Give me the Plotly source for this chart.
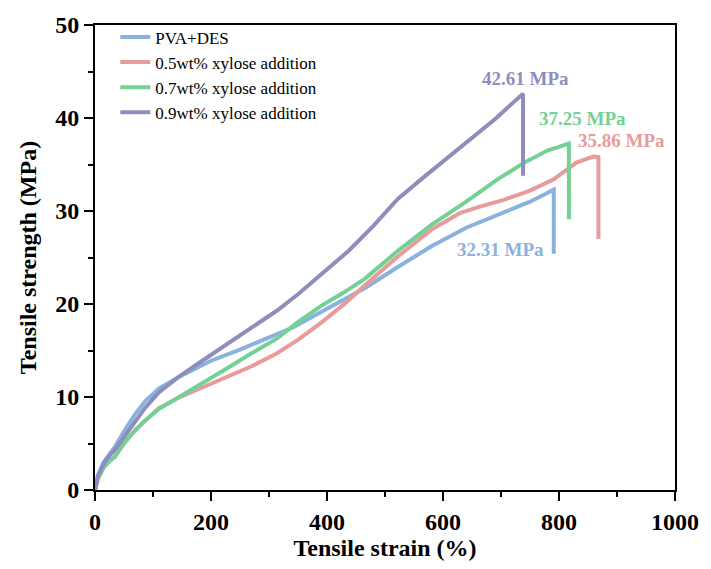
import plotly.graph_objects as go

# ---- data ----
blue_strain = [0, 5, 15, 25, 34, 50, 70, 86, 110, 143, 200, 250, 285, 342, 400, 465, 520, 580, 640, 705, 750, 779, 791, 791]
blue_stress = [0, 1.6, 3.0, 3.9, 4.6, 6.3, 8.2, 9.5, 10.9, 12.1, 13.9, 15.1, 16.0, 17.5, 19.5, 21.7, 23.9, 26.2, 28.2, 29.9, 31.0, 31.9, 32.31, 25.4]

red_strain = [0, 5, 15, 25, 34, 50, 70, 86, 110, 143, 185, 228, 270, 314, 351, 390, 428, 465, 520, 580, 630, 665, 705, 750, 791, 830, 859, 868, 868]
red_stress = [0, 1.3, 2.5, 3.2, 3.6, 5.0, 6.5, 7.45, 8.8, 9.9, 11.0, 12.1, 13.3, 14.7, 16.2, 18.0, 19.9, 22.0, 25.0, 28.0, 29.8, 30.5, 31.2, 32.2, 33.4, 35.2, 35.86, 35.8, 27.0]

green_strain = [0, 5, 15, 25, 34, 45, 60, 86, 110, 143, 185, 228, 270, 314, 351, 390, 428, 465, 520, 580, 640, 694, 740, 780, 805, 817, 817]
green_stress = [0, 1.2, 2.4, 3.1, 3.5, 4.6, 5.8, 7.45, 8.7, 9.9, 11.5, 13.1, 14.7, 16.3, 18.1, 19.8, 21.2, 22.7, 25.6, 28.5, 31.0, 33.4, 35.2, 36.5, 37.0, 37.25, 29.1]

purple_strain = [0, 5, 15, 25, 34, 50, 70, 86, 110, 143, 185, 228, 270, 314, 351, 400, 437, 480, 522, 570, 608, 650, 690, 720, 738, 738]
purple_stress = [0, 1.5, 2.8, 3.7, 4.3, 5.7, 7.4, 8.8, 10.5, 12.1, 13.9, 15.7, 17.4, 19.3, 21.1, 23.8, 25.7, 28.4, 31.3, 33.8, 35.7, 37.8, 39.9, 41.6, 42.61, 33.8]

series_names = ["PVA+DES", "0.5wt% xylose addition", "0.7wt% xylose addition", "0.9wt% xylose addition"]
colors = ["#8AB2DE", "#E99A9A", "#74D196", "#8E8EBE"]

peak_labels = ["32.31 MPa", "35.86 MPa", "37.25 MPa", "42.61 MPa"]
peak_label_x = [699, 908, 841, 743]
peak_label_y = [25.9, 37.6, 40.0, 44.3]

x_ticks = [0, 200, 400, 600, 800, 1000]
y_ticks = [0, 10, 20, 30, 40, 50]

FONT = "Liberation Serif"

fig = go.Figure()
all_x = [blue_strain, red_strain, green_strain, purple_strain]
all_y = [blue_stress, red_stress, green_stress, purple_stress]
for name, xs, ys, c in zip(series_names, all_x, all_y, colors):
    fig.add_trace(go.Scatter(x=xs, y=ys, mode="lines", name=name,
                             line=dict(color=c, width=4)))

for txt, xv, yv, c in zip(peak_labels, peak_label_x, peak_label_y, colors):
    fig.add_annotation(x=xv, y=yv, text="<b>" + txt + "</b>", showarrow=False,
                       font=dict(family=FONT, size=19, color=c))

axis_common = dict(showline=True, linecolor="black", linewidth=1.8, mirror=True,
                   ticks="outside", ticklen=9, tickwidth=1.8, tickcolor="black",
                   showgrid=False, zeroline=False,
                   tickfont=dict(family=FONT, size=24, color="black", weight="bold"),
                   title_font=dict(family=FONT, size=24, color="black", weight="bold"))

fig.update_xaxes(range=[0, 1000], tickvals=x_ticks, ticktext=[str(v) for v in x_ticks],
                 title_text="Tensile strain (%)", title_standoff=0,
                 minor=dict(ticks="outside", ticklen=5, tickwidth=1.8, tickcolor="black", dtick=100),
                 **axis_common)
fig.update_yaxes(range=[0, 50], tickvals=y_ticks, ticktext=[str(v) for v in y_ticks],
                 title_text="Tensile strength (MPa)", title_standoff=12,
                 minor=dict(ticks="outside", ticklen=5, tickwidth=1.8, tickcolor="black", dtick=5),
                 **axis_common)

fig.update_layout(
    width=711, height=569,
    margin=dict(l=95, r=32, t=21, b=79),
    plot_bgcolor="white", paper_bgcolor="white",
    showlegend=True,
    legend=dict(x=0.035, y=1.012, xanchor="left", yanchor="top",
                bgcolor="rgba(0,0,0,0)", font=dict(family=FONT, size=17, color="black"),
                tracegroupgap=0),
)

fig.write_html("out.html")
